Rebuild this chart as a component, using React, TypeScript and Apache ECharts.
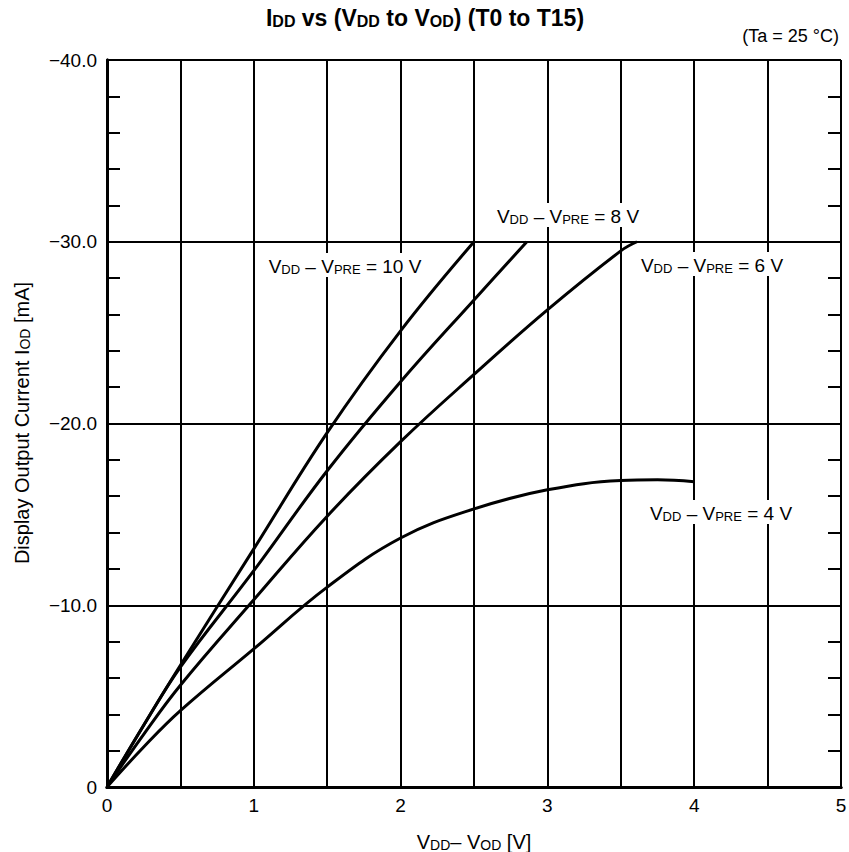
import React, { useEffect, useRef } from "react";
import * as echarts from "echarts";

// ---- data ----
const xTickLabels = ["0", "1", "2", "3", "4", "5"];
const yTickLabels = ["0", "−10.0", "−20.0", "−30.0", "−40.0"];

const v10X = [0, 0.25, 0.5, 1, 1.5, 2, 2.5];
const v10Y = [0, -3.4, -6.7, -13.1, -19.5, -25.1, -30.0];

const v8X = [0, 0.25, 0.5, 1, 1.5, 2, 2.5, 2.86];
const v8Y = [0, -3.4, -6.6, -11.9, -17.4, -22.3, -26.8, -30.0];

const v6X = [0, 0.25, 0.5, 1, 1.5, 2, 2.5, 3, 3.5, 3.61];
const v6Y = [0, -2.9, -5.6, -10.3, -14.9, -19.0, -22.7, -26.25, -29.5, -30.0];

const v4X = [0, 0.25, 0.5, 1, 1.5, 2, 2.5, 3, 3.5, 3.75, 4];
const v4Y = [0, -2.2, -4.2, -7.6, -11.0, -13.7, -15.3, -16.35, -16.86, -16.9, -16.8];

const curveNames = ["10 V", "8 V", "6 V", "4 V"];

const FONT = "'Liberation Sans', Arial, Helvetica, sans-serif";

const pairs = (xs: number[], ys: number[]) => xs.map((x, i) => [x, ys[i]]);

const rich = {
  m: { fontSize: 19, fontFamily: FONT, fill: "#000", verticalAlign: "bottom", lineHeight: 22 },
  s: { fontSize: 13, fontFamily: FONT, fill: "#000", verticalAlign: "bottom", lineHeight: 22 },
  b: { fontSize: 23, fontFamily: FONT, fontWeight: "bold", fill: "#000", verticalAlign: "bottom", lineHeight: 26 },
  bs: { fontSize: 16, fontFamily: FONT, fontWeight: "bold", fill: "#000", verticalAlign: "bottom", lineHeight: 26 },
  a: { fontSize: 18, fontFamily: FONT, fill: "#000", verticalAlign: "bottom", lineHeight: 21 },
  y: { fontSize: 20, fontFamily: FONT, fill: "#000", verticalAlign: "bottom", lineHeight: 22 },
  ys: { fontSize: 14, fontFamily: FONT, fill: "#000", verticalAlign: "bottom", lineHeight: 22 },
};

const curveLabel = (v: string) => `{m|V}{s|DD}{m| – V}{s|PRE}{m| = ${v}}`;

function labelText(text: string, x: number, y: number) {
  return {
    type: "text",
    x,
    y,
    z: 50,
    style: {
      text,
      rich,
      align: "center",
      verticalAlign: "middle",
      backgroundColor: "#fff",
      padding: [1, 3],
    },
  };
}

export default function App() {
  const ref = useRef<HTMLDivElement>(null);

  useEffect(() => {
    if (!ref.current) return;
    const chart = echarts.init(ref.current, undefined, { renderer: "svg" });

    const lineSeries = (name: string, xs: number[], ys: number[]) => ({
      name,
      type: "line",
      data: pairs(xs, ys),
      smooth: 0.4,
      showSymbol: false,
      symbol: "none",
      lineStyle: { color: "#000", width: 3 },
      z: 5,
    });

    const axisLine = () => ({ show: true, lineStyle: { color: "#000", width: 3 } });
    const yBase = () => ({ type: "value", min: -40, max: 0, interval: 10, inverse: true });
    // helper axes shifted 13px inward whose outward minor ticks land inside the frame
    const tickAxis = (position: string) => ({
      ...yBase(),
      position,
      offset: -13,
      axisLine: { show: false },
      axisTick: { show: false },
      axisLabel: { show: false },
      splitLine: { show: false },
      minorTick: { show: true, splitNumber: 5, length: 13, lineStyle: { color: "#000", width: 2 } },
    });

    chart.setOption({
      animation: false,
      backgroundColor: "#fff",
      grid: { left: 107, right: 8, top: 60, bottom: 65, containLabel: false, outerBoundsMode: "none" },
      xAxis: [
        {
          type: "value",
          min: 0,
          max: 5,
          interval: 0.5,
          position: "bottom",
          axisLine: axisLine(),
          axisTick: { show: false },
          splitLine: { show: true, lineStyle: { color: "#000", width: 2 } },
          axisLabel: {
            fontSize: 19,
            fontFamily: FONT,
            color: "#000",
            margin: 9,
            formatter: (v: number) => (Number.isInteger(v) ? xTickLabels[v] : ""),
          },
          name: "{m|V}{s|DD}{m|– V}{s|OD}{m| [V]}",
          nameLocation: "middle",
          nameGap: 43,
          nameTextStyle: {
            rich: {
              m: { fontSize: 20, fontFamily: FONT, color: "#000", verticalAlign: "bottom", lineHeight: 22 },
              s: { fontSize: 14, fontFamily: FONT, color: "#000", verticalAlign: "bottom", lineHeight: 22 },
            },
          },
        },
        {
          type: "value",
          min: 0,
          max: 5,
          interval: 0.5,
          position: "top",
          axisLine: axisLine(),
          axisTick: { show: false },
          axisLabel: { show: false },
          splitLine: { show: false },
        },
      ],
      yAxis: [
        {
          ...yBase(),
          position: "left",
          axisLine: axisLine(),
          axisTick: { show: false },
          splitLine: { show: true, lineStyle: { color: "#000", width: 2 } },
          axisLabel: {
            fontSize: 19,
            fontFamily: FONT,
            color: "#000",
            margin: 10,
            formatter: (v: number) => yTickLabels[Math.round(Math.abs(v) / 10)],
          },
        },
        {
          ...yBase(),
          position: "right",
          axisLine: axisLine(),
          axisTick: { show: false },
          splitLine: { show: false },
          axisLabel: { show: false },
        },
        tickAxis("left"),
        tickAxis("right"),
      ],
      series: [
        lineSeries(curveNames[0], v10X, v10Y),
        lineSeries(curveNames[1], v8X, v8Y),
        lineSeries(curveNames[2], v6X, v6Y),
        lineSeries(curveNames[3], v4X, v4Y),
      ],
      graphic: [
        {
          type: "text",
          x: 425,
          y: 16,
          z: 50,
          style: {
            text: "{b|I}{bs|DD}{b| vs (V}{bs|DD}{b| to V}{bs|OD}{b|) (T0 to T15)}",
            rich,
            align: "center",
            verticalAlign: "middle",
          },
        },
        {
          type: "text",
          x: 839,
          y: 34,
          z: 50,
          style: {
            text: "{a|(Ta = 25 °C)}",
            rich,
            align: "right",
            verticalAlign: "middle",
          },
        },
        {
          type: "text",
          x: 21,
          y: 423,
          rotation: Math.PI / 2,
          z: 50,
          style: {
            text: "{y|Display Output Current I}{ys|OD}{y| [mA]}",
            rich,
            align: "center",
            verticalAlign: "middle",
          },
        },
        labelText(curveLabel(curveNames[0]), 345, 265),
        labelText(curveLabel(curveNames[1]), 568, 215),
        labelText(curveLabel(curveNames[2]), 712, 264),
        labelText(curveLabel(curveNames[3]), 721, 512),
      ],
    });

    return () => chart.dispose();
  }, []);

  return (
    <div
      ref={ref}
      style={{ position: "absolute", left: 0, top: 0, width: 849, height: 852, background: "#fff" }}
    />
  );
}
